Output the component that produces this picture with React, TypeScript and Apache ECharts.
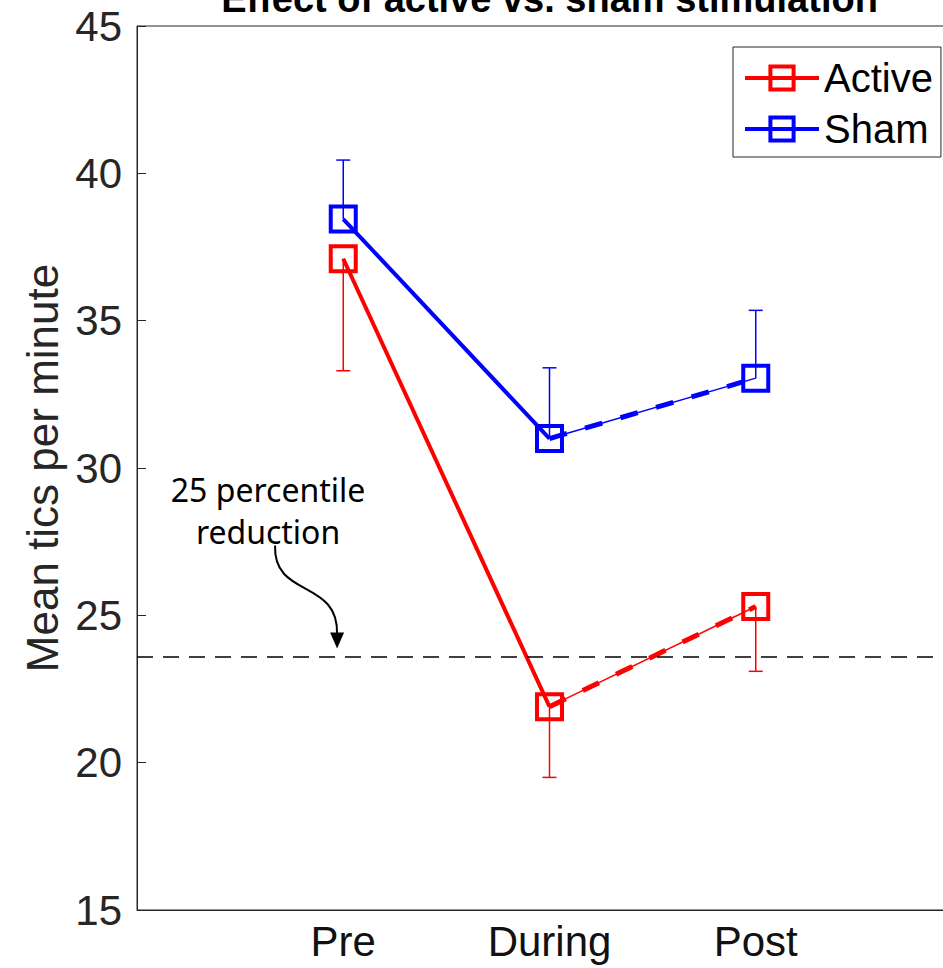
import React, { useEffect, useRef } from "react";
import * as echarts from "echarts";

const categories = ["Pre", "During", "Post"];
const activeMean = [37.1, 21.9, 25.3];
const activeLower = [33.3, 19.5, 23.1];
const shamMean = [38.45, 31.0, 33.05];
const shamUpper = [40.45, 33.4, 35.35];
const threshold = 23.6;
const yTicks = { min: 15, max: 45, step: 5 };

const RED = "#ff0000";
const BLUE = "#0000ff";
const FONT = "'Liberation Sans', Arial, Helvetica, sans-serif";

const pts = (vals: number[], idx: number[]) => idx.map((i) => [i + 1, vals[i]]);

const errSeries = (name: string, mean: number[], end: number[], color: string) => ({
  type: "custom",
  name,
  z: 2,
  silent: true,
  encode: { x: 0, y: [1, 2] },
  data: mean.map((m, i) => [i + 1, m, end[i]]),
  renderItem: (params: any, api: any) => {
    const x = api.value(0);
    const p0 = api.coord([x, api.value(1)]);
    const p1 = api.coord([x, api.value(2)]);
    return {
      type: "group",
      children: [
        { type: "line", shape: { x1: p0[0], y1: p0[1], x2: p1[0], y2: p1[1] }, style: { stroke: color, lineWidth: 1.5 } },
        { type: "line", shape: { x1: p1[0] - 7, y1: p1[1], x2: p1[0] + 7, y2: p1[1] }, style: { stroke: color, lineWidth: 1.5 } },
      ],
    };
  },
});

const markerSeries = (name: string, mean: number[], color: string) => ({
  type: "scatter",
  name,
  z: 2,
  silent: true,
  symbol: "rect",
  symbolSize: 25,
  itemStyle: { color: "transparent", borderColor: color, borderWidth: 4, opacity: 1 },
  data: pts(mean, [0, 1, 2]),
});

const mainLine = (name: string, mean: number[], color: string) => ({
  type: "line",
  name,
  z: 3,
  silent: true,
  symbol: "rect",
  symbolSize: 25,
  showSymbol: false,
  itemStyle: { color: "transparent", borderColor: color, borderWidth: 4 },
  lineStyle: { color, width: 4 },
  data: pts(mean, [0, 1]),
});

const thinLine = (name: string, mean: number[], color: string, extra: any = {}) => ({
  type: "line",
  name,
  z: 3,
  silent: true,
  symbol: "none",
  lineStyle: { color, width: 1.5 },
  data: pts(mean, [1, 2]),
  ...extra,
});

const dashLine = (name: string, mean: number[], color: string) => ({
  type: "line",
  name,
  z: 4,
  silent: true,
  symbol: "none",
  lineStyle: { color, width: 5, type: [18, 19] },
  data: pts(mean, [1, 2]),
});

export default function App() {
  const ref = useRef<HTMLDivElement>(null);
  useEffect(() => {
    if (!ref.current) return;
    const chart = echarts.init(ref.current, undefined, { renderer: "svg" });
    const option: any = {
      animation: false,
      backgroundColor: "#ffffff",
      grid: {
        left: 137,
        top: 26,
        width: 825,
        height: 884,
        show: true,
        borderColor: "#262626",
        borderWidth: 1,
        backgroundColor: "transparent",
      },
      xAxis: {
        type: "value",
        min: 0,
        max: categories.length + 1,
        interval: 1,
        splitLine: { show: false },
        axisTick: { show: false },
        axisLine: { show: true, onZero: false, lineStyle: { color: "#262626", width: 1 } },
        axisLabel: {
          fontSize: 42,
          fontFamily: FONT,
          color: "#111111",
          margin: 10,
          formatter: (v: number) => categories[v - 1] ?? "",
        },
      },
      yAxis: {
        type: "value",
        min: yTicks.min,
        max: yTicks.max,
        interval: yTicks.step,
        splitLine: { show: false },
        axisLine: { show: true, lineStyle: { color: "#262626", width: 1 } },
        axisTick: { show: true, inside: true, length: 9, lineStyle: { color: "#262626", width: 1 } },
        axisLabel: { fontSize: 42, fontFamily: FONT, color: "#262626", margin: 15 },
        name: "Mean tics per minute",
        nameLocation: "middle",
        nameGap: 72,
        nameTextStyle: { fontSize: 44, fontFamily: FONT, color: "#262626" },
      },
      legend: {
        data: ["Active", "Sham"],
        orient: "vertical",
        left: 733,
        top: 47,
        itemWidth: 74,
        itemHeight: 29,
        itemGap: 11,
        padding: [11, 8, 8, 10],
        borderColor: "#262626",
        borderWidth: 1,
        backgroundColor: "#ffffff",
        selectedMode: false,
        lineStyle: { width: 4 },
        itemStyle: { borderWidth: 4 },
        textStyle: { fontSize: 40, fontFamily: FONT, color: "#000000" },
      },
      series: [
        errSeries("ActiveErr", activeMean, activeLower, RED),
        errSeries("ShamErr", shamMean, shamUpper, BLUE),
        markerSeries("ActiveMarkers", activeMean, RED),
        markerSeries("ShamMarkers", shamMean, BLUE),
        mainLine("Active", activeMean, RED),
        mainLine("Sham", shamMean, BLUE),
        thinLine("ActiveThin", activeMean, RED, {
          markLine: {
            silent: true,
            symbol: "none",
            label: { show: false },
            lineStyle: { color: "#000000", width: 1.5, type: [16, 10] },
            data: [{ yAxis: threshold }],
          },
        }),
        thinLine("ShamThin", shamMean, BLUE),
        dashLine("ActiveDash", activeMean, RED),
        dashLine("ShamDash", shamMean, BLUE),
      ],
    };
    chart.setOption(option);

    const tip = chart.convertToPixel({ xAxisIndex: 0, yAxisIndex: 0 }, [0.97, threshold]) as number[];
    const tx = tip[0];
    const ty = tip[1] - 8;
    const center = chart.convertToPixel({ xAxisIndex: 0, yAxisIndex: 0 }, [(categories.length + 1) / 2, yTicks.max]) as number[];
    chart.setOption({
      graphic: [
        {
          type: "text",
          x: center[0],
          y: -1,
          style: {
            text: "Effect of active vs. sham stimulation",
            fontSize: 38,
            fontWeight: "bold",
            fontFamily: FONT,
            fill: "#000000",
            textAlign: "center",
            textVerticalAlign: "middle",
          },
        },
        {
          type: "text",
          x: tx - 69,
          y: ty - 138,
          style: {
            text: "25 percentile\nreduction",
            fontSize: 32,
            lineHeight: 42,
            fontFamily: "'Noto Sans', 'Open Sans', sans-serif",
            fill: "#000000",
            textAlign: "center",
            textVerticalAlign: "middle",
          },
        },
        {
          type: "bezierCurve",
          shape: {
            x1: tx - 62,
            y1: ty - 103,
            cpx1: tx - 64,
            cpy1: ty - 50,
            cpx2: tx + 2,
            cpy2: ty - 70,
            x2: tx,
            y2: ty - 14,
          },
          style: { stroke: "#000000", lineWidth: 2, fill: null },
        },
        {
          type: "polygon",
          shape: { points: [[tx - 7, ty - 16], [tx + 7, ty - 16], [tx, ty]] },
          style: { fill: "#000000" },
        },
      ],
    });
    return () => chart.dispose();
  }, []);
  return (
    <div style={{ position: "fixed", left: 0, top: 0, width: 943, height: 968, overflow: "hidden", background: "#fff" }}>
      <div ref={ref} style={{ width: 980, height: 968 }} />
    </div>
  );
}
